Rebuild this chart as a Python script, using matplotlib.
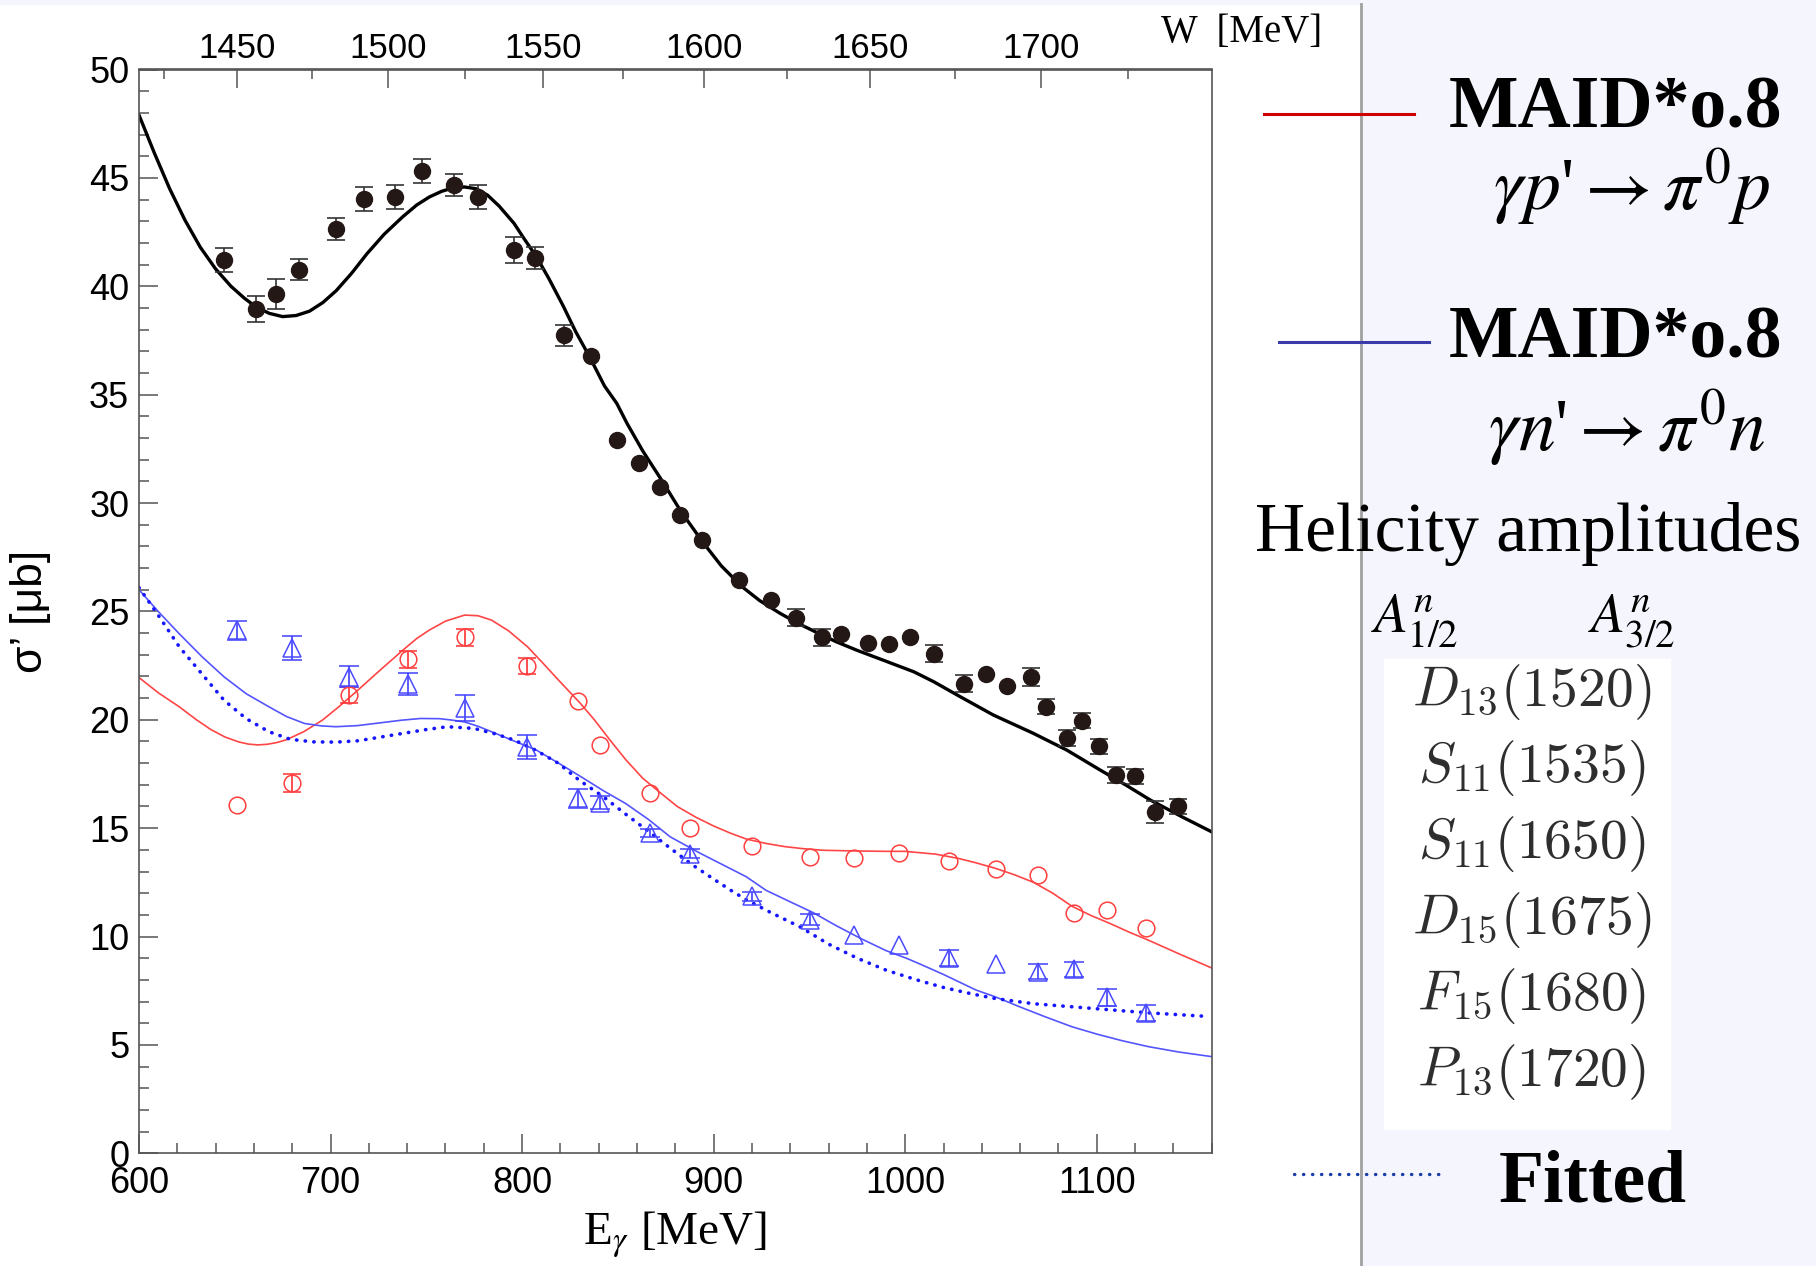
import numpy as np
import matplotlib.pyplot as plt
from matplotlib.lines import Line2D
from matplotlib.patches import Rectangle
from matplotlib.ticker import MultipleLocator

plt.rcParams['font.family'] = ['Liberation Sans', 'DejaVu Sans']
plt.rcParams['mathtext.fontset'] = 'stix'

# gamma p -> pi0 p data (black dots)
e_p = [644.2, 661.2, 671.5, 683.6, 703.0, 717.6, 733.9, 747.9, 764.2, 777.0,
       795.8, 806.7, 821.8, 835.8, 849.7, 861.2, 872.1, 882.4, 893.9, 913.3,
       929.7, 943.0, 956.4, 966.7, 980.6, 991.5, 1002.4, 1015.2, 1030.9, 1042.4,
       1053.3, 1065.5, 1073.3, 1084.2, 1092.1, 1101.2, 1110.3, 1120.0, 1130.3, 1142.4]
sig_p = [41.2, 38.95, 39.65, 40.77, 42.64, 44.02, 44.13, 45.30, 44.66, 44.13,
         41.67, 41.30, 37.73, 36.77, 32.92, 31.86, 30.74, 29.46, 28.28, 26.47,
         25.51, 24.71, 23.80, 23.96, 23.53, 23.48, 23.80, 23.05, 21.67, 22.09,
         21.56, 21.98, 20.60, 19.16, 19.96, 18.78, 17.45, 17.40, 15.74, 16.01]
nan = np.nan
err_p = [0.55, 0.6, 0.7, 0.48, 0.5, 0.55, 0.55, 0.55, 0.5, 0.55,
         0.6, 0.5, 0.48, nan, nan, nan, nan, nan, nan, nan,
         nan, 0.38, 0.38, nan, nan, nan, nan, 0.38, 0.4, nan,
         nan, 0.4, 0.35, 0.35, 0.35, 0.35, 0.35, 0.35, 0.5, 0.35]

# quasi-free p' (red circles) and n' (blue triangles), same energies
e_qf = [650.9, 680.0, 709.7, 740.6, 770.3, 802.4, 829.1, 840.6, 866.7, 887.9,
        920.0, 950.3, 973.3, 997.0, 1023.0, 1047.3, 1069.1, 1087.9, 1105.5, 1125.5]
sig_pq = [16.06, 17.08, 21.13, 22.79, 23.80, 22.47, 20.86, 18.84, 16.60, 14.99,
          14.19, 13.66, 13.61, 13.87, 13.50, 13.13, 12.86, 11.10, 11.21, 10.41]
err_pq = [nan, 0.4, 0.36, 0.4, 0.41, 0.38, nan, nan, nan, nan,
          nan, nan, nan, nan, nan, nan, nan, nan, nan, nan]
sig_nq = [24.12, 23.32, 21.98, 21.66, 20.54, 18.73, 16.38, 16.17, 14.78, 13.82,
          11.85, 10.78, 10.09, 9.61, 9.02, 8.75, 8.38, 8.48, 7.20, 6.46]
err_nq = [0.46, 0.55, 0.48, 0.52, 0.6, 0.56, 0.44, 0.3, 0.2, 0.2,
          0.2, 0.25, nan, nan, 0.38, nan, 0.35, 0.36, 0.4, 0.37]

# model curves
maid_p_e = [600, 608, 616, 624, 632, 640, 648, 655, 661, 668, 675, 682, 689, 696, 703,
            711, 719, 728, 737.6, 745, 751.6, 758, 764, 770, 776, 782, 788, 795.8, 801, 807.5,
            814, 821.4, 828, 835.5, 843, 849.4, 854.8, 863, 872.8, 883, 894.8, 904, 914.8, 924,
            934.7, 944, 954.7, 964, 974.7, 990, 1004.6, 1015, 1028, 1046, 1067, 1084.4, 1101.8,
            1115, 1127.9, 1145, 1160]
maid_p_s = [47.9, 46.15, 44.5, 43.05, 41.8, 40.8, 40.0, 39.45, 39.05, 38.75, 38.6, 38.65, 38.85,
            39.25, 39.8, 40.6, 41.5, 42.4, 43.2, 43.75, 44.12, 44.38, 44.54, 44.58, 44.5, 44.2,
            43.7, 42.9, 42.2, 41.36, 40.35, 39.1, 37.9, 36.7, 35.4, 34.6, 33.67, 32.4, 31.06,
            29.6, 28.14, 27.1, 26.14, 25.5, 24.91, 24.45, 23.99, 23.6, 23.21, 22.7, 22.21, 21.75,
            21.1, 20.22, 19.37, 18.6, 17.68, 17.0, 16.3, 15.5, 14.83]

maid_pq_e = [600, 610, 621, 630, 637.5, 645, 652, 657, 662, 667, 672, 677, 686, 695.7, 705,
             714.3, 726, 737.6, 745, 751.6, 760, 770, 777, 784, 793, 802.8, 811, 819, 830.5,
             837.7, 846, 854.3, 863, 872.6, 881, 890.8, 900, 909, 917, 927, 937, 946, 957, 973,
             990, 1000, 1016, 1028, 1037, 1047, 1057, 1067, 1077, 1087, 1097, 1107, 1117, 1127,
             1143, 1160]
maid_pq_s = [21.95, 21.25, 20.6, 20.0, 19.55, 19.2, 18.98, 18.88, 18.84, 18.87, 18.95, 19.08,
             19.45, 19.98, 20.65, 21.37, 22.3, 23.2, 23.75, 24.14, 24.55, 24.83, 24.8, 24.6,
             24.1, 23.37, 22.6, 21.83, 20.75, 20.0, 19.05, 18.14, 17.3, 16.6, 16.0, 15.5, 15.1,
             14.76, 14.5, 14.3, 14.15, 14.06, 13.98, 13.95, 13.93, 13.93, 13.8, 13.6, 13.4,
             13.15, 12.85, 12.5, 12.0, 11.4, 10.97, 10.6, 10.2, 9.83, 9.2, 8.55]

maid_nq_e = [600, 610, 621, 633, 644.4, 656, 667.8, 677, 686.4, 695, 702.7, 714, 726, 737, 747,
             757, 763, 770, 777, 784, 795, 807.5, 819, 830.8, 842, 854, 866, 877.3, 893, 905,
             917, 927.4, 940, 952, 964, 977, 990, 1000.6, 1007, 1020, 1037, 1047, 1060, 1073,
             1087, 1100, 1113, 1127, 1143, 1160]
maid_nq_s = [26.0, 25.0, 23.97, 22.9, 21.98, 21.2, 20.6, 20.15, 19.83, 19.72, 19.68, 19.73,
             19.86, 19.98, 20.06, 20.05, 19.99, 19.9, 19.7, 19.45, 19.05, 18.6, 18.0, 17.37,
             16.75, 16.14, 15.4, 14.6, 13.84, 13.3, 12.76, 12.13, 11.6, 11.1, 10.5, 9.9, 9.35,
             9.0, 8.76, 8.25, 7.53, 7.22, 6.75, 6.3, 5.84, 5.5, 5.2, 4.92, 4.67, 4.46]

fit_e = [600, 611, 621, 633, 644.4, 656, 667.8, 679, 691, 703, 714.3, 726, 737.6, 750, 761,
         775, 786, 796, 807, 819, 830, 842.4, 854, 866, 877, 889, 900, 909, 917, 930, 945,
         960, 975, 990, 1006, 1020, 1035, 1047, 1067, 1087, 1107, 1127, 1155]
fit_s = [26.1, 24.7, 23.37, 22.1, 20.9, 20.05, 19.45, 19.1, 18.98, 18.97, 19.03, 19.2, 19.37,
         19.55, 19.68, 19.6, 19.35, 19.06, 18.6, 17.99, 17.2, 16.45, 15.65, 14.85, 14.1, 13.3,
         12.65, 12.13, 11.7, 11.1, 10.45, 9.65, 9.0, 8.45, 8.0, 7.65, 7.35, 7.14, 6.9, 6.76,
         6.62, 6.48, 6.33]

resonances = [r'$D_{13}(1520)$', r'$S_{11}(1535)$', r'$S_{11}(1650)$',
              r'$D_{15}(1675)$', r'$F_{15}(1680)$', r'$P_{13}(1720)$']

M_N = 938.27


def e2w(e):
    e = np.asarray(e, float)
    return np.sqrt(np.maximum(M_N**2 + 2 * M_N * e, 1.0))


def w2e(w):
    w = np.asarray(w, float)
    return (w**2 - M_N**2) / (2 * M_N)


W, H = 1816, 1266


def fx(px):
    return px / W


def fy(py):
    return 1 - py / H


fig = plt.figure(figsize=(W / 100, H / 100), dpi=100)
fig.patches.append(Rectangle((fx(1361), 0), 1 - fx(1361), 1, transform=fig.transFigure,
                             color='#f5f6fd', zorder=-5))
fig.patches.append(Rectangle((0, fy(4)), 1, 4 / H, transform=fig.transFigure,
                             color='#f5f6fd', zorder=-5))

ax = fig.add_axes([fx(139), fy(1153.3), (1211.7 - 139) / W, (1153.3 - 69.5) / H])

ax.plot(maid_p_e, maid_p_s, color='black', lw=2.4)
ax.plot(maid_pq_e, maid_pq_s, color='#ff4545', lw=1.2)
ax.plot(maid_nq_e, maid_nq_s, color='#5555ff', lw=1.2)
ax.plot(fit_e, fit_s, color='#1515ff', lw=2.6, linestyle=(0, (0.1, 2.3)),
        dash_capstyle='round')

ax.errorbar(e_p, sig_p, yerr=err_p, fmt='o', ms=11.5, color='#231815',
            ecolor='#333333', elinewidth=1.2, capsize=6.5, capthick=1.2, zorder=5)
ax.errorbar(e_qf, sig_pq, yerr=err_pq, fmt='o', ms=12, mfc='none', mec='#ff4040',
            mew=1.1, ecolor='#ff3030', elinewidth=1.2, capsize=6.5, capthick=1.4, zorder=4)
ax.errorbar(e_qf, sig_nq, yerr=err_nq, fmt='^', ms=12.5, mfc='none', mec='#4a4aff',
            mew=1.1, ecolor='#4040ff', elinewidth=1.2, capsize=7, capthick=1.4, zorder=4)

ax.set_xlim(600, 1160)
ax.set_ylim(0, 50)
ax.xaxis.set_major_locator(MultipleLocator(100))
ax.xaxis.set_minor_locator(MultipleLocator(20))
ax.yaxis.set_major_locator(MultipleLocator(5))
ax.yaxis.set_minor_locator(MultipleLocator(1))
ax.tick_params(which='both', direction='in', top=False, right=False,
               color='#555555', width=1.1, labelsize=26)
ax.tick_params(which='major', length=14)
ax.tick_params(which='minor', length=7)
ax.tick_params(axis='x', pad=9)
ax.tick_params(axis='y', pad=7)
for s in ax.spines.values():
    s.set_color('#555555')
    s.set_linewidth(1.2)

sec = ax.secondary_xaxis('top', functions=(e2w, w2e))
sec.xaxis.set_major_locator(MultipleLocator(50))
sec.xaxis.set_minor_locator(MultipleLocator(25))
sec.tick_params(which='both', direction='in', color='#555555', width=1.1, labelsize=25, pad=3)
sec.tick_params(which='major', length=14)
sec.tick_params(which='minor', length=7)
sec.spines['top'].set_color('#555555')
sec.spines['top'].set_linewidth(1.2)

ax.set_ylabel('σ’ [μb]', fontsize=32)
ax.yaxis.set_label_coords(-0.082, 0.5)
ax.set_xlabel(r'E$_{\gamma}$ [MeV]', fontsize=34, fontfamily='Liberation Serif')
ax.xaxis.set_label_coords(0.5, -0.052)

fig.text(fx(1242), fy(42), 'W  [MeV]', ha='center', va='baseline', fontsize=28,
         fontfamily='Liberation Serif')

# right-hand panel
fig.add_artist(Line2D([fx(1361), fx(1361)], [0, fy(4)], transform=fig.transFigure,
                      color='#a0a0a0', lw=2))
fig.add_artist(Line2D([fx(1264), fx(1414)], [fy(114), fy(114)], transform=fig.transFigure,
                      color='#d00000', lw=2.2))
fig.add_artist(Line2D([fx(1279), fx(1429)], [fy(341.5), fy(341.5)], transform=fig.transFigure,
                      color='#3a3aaa', lw=2.2))
fig.add_artist(Line2D([fx(1294), fx(1441)], [fy(1173.5), fy(1173.5)], transform=fig.transFigure,
                      color='#1a3ca8', lw=2.4, linestyle=(0, (0.1, 2.6)), dash_capstyle='round'))

serif = 'Liberation Serif'
fig.text(fx(1616), fy(127), 'MAID*o.8', ha='center', va='baseline', fontsize=53,
         fontweight='bold', fontfamily=serif)
fig.text(fx(1632), fy(210), r"$\gamma p$'$\rightarrow \pi^{0} p$", ha='center', va='baseline',
         fontsize=53, fontfamily=serif)
fig.text(fx(1616), fy(357), 'MAID*o.8', ha='center', va='baseline', fontsize=53,
         fontweight='bold', fontfamily=serif)
fig.text(fx(1627), fy(451), r"$\gamma n$'$\rightarrow \pi^{0} n$", ha='center', va='baseline',
         fontsize=53, fontfamily=serif)
fig.text(fx(1528), fy(551), 'Helicity amplitudes', ha='center', va='baseline', fontsize=50,
         fontfamily=serif)
fig.text(fx(1415), fy(632), r'$A^{n}_{1/2}$', ha='center', va='baseline', fontsize=40)
fig.text(fx(1632), fy(632), r'$A^{n}_{3/2}$', ha='center', va='baseline', fontsize=40)

fig.patches.append(Rectangle((fx(1384), fy(1129)), (1670 - 1384) / W, (1129 - 659) / H,
                             transform=fig.transFigure, color='white', zorder=-4))
for i, lab in enumerate(resonances):
    fig.text(fx(1532), fy(706 + 76 * i), lab, ha='center', va='baseline', fontsize=40,
             color='#2e2e2e', math_fontfamily='cm')

fig.text(fx(1593), fy(1201), 'Fitted', ha='center', va='baseline', fontsize=53,
         fontweight='bold', fontfamily=serif)

fig.savefig('out.png', dpi=100)
